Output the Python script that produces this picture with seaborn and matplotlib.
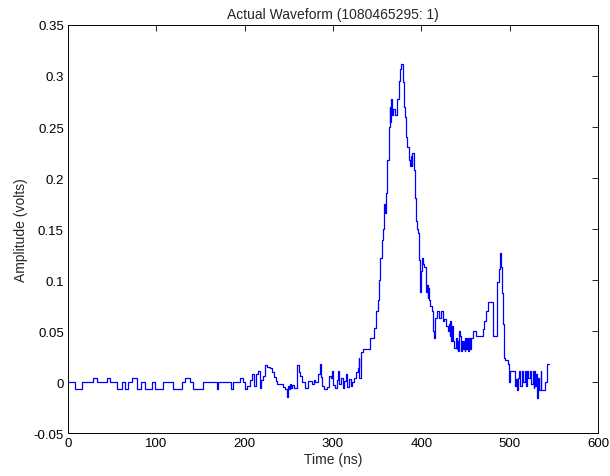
import matplotlib
matplotlib.use("Agg")
import matplotlib.pyplot as plt
import seaborn as sns
import pandas as pd

# Breakpoints of the step waveform: time (ns) and amplitude (volts)
time_ns = [
    0, 8, 16, 28, 33, 44, 48, 55, 61, 64, 68, 72, 78, 83, 87, 95, 98, 107, 119, 129,
    132, 138, 141, 153, 169, 170, 184, 187, 195, 198, 200, 203, 206, 208, 211, 213,
    215, 217, 219, 221, 223, 225, 229, 231, 233, 235, 237, 243, 246, 248, 249, 250,
    251, 252, 254, 256, 259, 261, 263, 265, 268, 272, 276, 278, 280, 283, 285, 286,
    288, 290, 293, 295, 298, 299, 300, 302, 304, 306, 307, 309, 311, 313, 315, 316,
    318, 320, 322, 324, 326, 328, 329, 330, 332, 334, 342, 346, 349, 351, 352, 353,
    355, 357, 358, 359, 360, 361, 363, 364, 365, 366, 367, 368, 370, 372, 375, 376,
    377, 379, 380, 381, 383, 384, 386, 387, 388, 389, 390, 392, 393, 394, 395, 396,
    397, 398, 399, 400, 401, 402, 403, 405, 406, 407, 408, 409, 410, 412, 413, 414,
    415, 416, 418, 420, 422, 424, 426, 428, 430, 431, 432, 433, 434, 435, 436, 437,
    439, 440, 441, 442, 443, 444, 445, 446, 447, 448, 449, 450, 451, 452, 453, 454,
    455, 456, 458, 459, 462, 470, 471, 473, 475, 481, 486, 488, 489, 490, 491, 493,
    494, 495, 498, 499, 500, 506, 507, 508, 509, 510, 511, 512, 514, 515, 517, 518,
    520, 521, 523, 524, 526, 527, 528, 529, 530, 531, 532, 533, 535, 536, 540, 542,
    545,
]
amplitude_v = [
    0.000, -0.007, 0.000, 0.004, 0.000, 0.004, 0.000, -0.007, 0.000, -0.007, 0.000, 0.004, -0.007, 0.000, -0.007, 0.000, -0.007, 0.000, -0.007, 0.000,
    0.004, 0.000, -0.007, 0.000, -0.007, 0.000, -0.007, 0.000, 0.004, 0.000, -0.007, -0.004, 0.002, 0.008, -0.004, 0.008,
    0.011, -0.006, 0.002, 0.006, 0.017, 0.015, 0.014, 0.010, 0.005, 0.001, -0.002, -0.005, -0.007, -0.015, -0.004, -0.007,
    -0.002, -0.006, -0.003, -0.006, 0.017, 0.010, 0.006, 0.000, -0.006, 0.001, -0.002, 0.002, 0.000, 0.008, 0.018, 0.005,
    -0.004, -0.007, -0.005, 0.006, 0.004, 0.011, -0.003, -0.006, 0.002, 0.011, -0.002, 0.004, -0.006, 0.001, 0.008, -0.005,
    0.003, -0.004, 0.000, 0.004, 0.010, 0.014, 0.024, 0.004, 0.029, 0.032, 0.043, 0.053, 0.070, 0.080, 0.100, 0.122,
    0.139, 0.150, 0.175, 0.166, 0.185, 0.218, 0.250, 0.270, 0.255, 0.277, 0.262, 0.268, 0.262, 0.277, 0.295, 0.307,
    0.312, 0.294, 0.270, 0.260, 0.240, 0.230, 0.218, 0.212, 0.222, 0.212, 0.225, 0.208, 0.180, 0.158, 0.150, 0.146,
    0.120, 0.095, 0.088, 0.109, 0.122, 0.116, 0.113, 0.088, 0.095, 0.082, 0.092, 0.080, 0.075, 0.070, 0.050, 0.043,
    0.058, 0.063, 0.070, 0.063, 0.070, 0.060, 0.062, 0.055, 0.050, 0.057, 0.045, 0.060, 0.040, 0.055, 0.040, 0.033,
    0.043, 0.032, 0.040, 0.030, 0.050, 0.045, 0.030, 0.040, 0.032, 0.040, 0.030, 0.043, 0.032, 0.043, 0.030, 0.043,
    0.032, 0.043, 0.045, 0.050, 0.045, 0.052, 0.060, 0.070, 0.078, 0.045, 0.098, 0.111, 0.126, 0.113, 0.087, 0.057,
    0.024, 0.022, 0.018, 0.000, 0.011, -0.004, 0.003, -0.008, -0.003, 0.004, 0.011, -0.004, 0.011, 0.000, 0.011, -0.004,
    0.011, 0.004, 0.011, -0.002, 0.011, -0.006, 0.011, -0.004, 0.008, -0.016, 0.004, -0.008, 0.011, -0.008, 0.000, 0.018,
    0.018,
]

x_ticks = [0, 100, 200, 300, 400, 500, 600]
y_ticks = [-0.05, 0, 0.05, 0.1, 0.15, 0.2, 0.25, 0.3, 0.35]
y_tick_labels = ["-0.05", "0", "0.05", "0.1", "0.15", "0.2", "0.25", "0.3", "0.35"]
x_tick_labels = ["0", "100", "200", "300", "400", "500", "600"]

df = pd.DataFrame({"t": time_ns, "v": amplitude_v})

sns.set_style("white")
plt.rcParams["font.family"] = ["Liberation Sans", "DejaVu Sans"]

fig = plt.figure(figsize=(6.10, 4.77), dpi=100)
ax = fig.add_axes([0.1115, 0.0901, 0.8688, 0.8554])

sns.lineplot(data=df, x="t", y="v", ax=ax, color="#0000ff", linewidth=0.9,
             drawstyle="steps-post", sort=False, estimator=None)

ax.set_xlim(0, 600)
ax.set_ylim(-0.05, 0.35)
ax.set_xticks(x_ticks)
ax.set_xticklabels(x_tick_labels)
ax.set_yticks(y_ticks)
ax.set_yticklabels(y_tick_labels)
ax.tick_params(direction="in", top=True, right=True, length=4, width=0.6,
               labelsize=9.5, colors="black", pad=3)
for s in ax.spines.values():
    s.set_visible(True)
    s.set_color("black")
    s.set_linewidth(0.7)

ax.set_xlabel("Time (ns)", fontsize=10, labelpad=2)
ax.set_ylabel("Amplitude (volts)", fontsize=10, labelpad=4)
ax.set_title("Actual Waveform (1080465295: 1)", fontsize=10, pad=5)

fig.savefig("out.png", dpi=100, facecolor="white")
